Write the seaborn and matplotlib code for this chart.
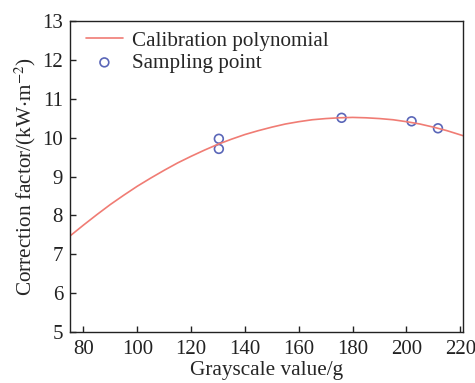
import pandas as pd
import matplotlib.pyplot as plt
import seaborn as sns

# Calibration curve
curve_x = [75, 80, 85, 90, 95, 100, 105, 110, 115, 120, 125, 130, 135, 140, 145, 150,
           155, 160, 165, 170, 175, 180, 185, 190, 195, 200, 205, 210, 215, 221]
curve_y = [7.47, 7.75, 8.02, 8.28, 8.52, 8.75, 8.96, 9.16, 9.35, 9.52, 9.68, 9.83, 9.96, 10.08,
           10.18, 10.27, 10.35, 10.41, 10.46, 10.49, 10.51, 10.52, 10.51, 10.49, 10.46, 10.41,
           10.35, 10.27, 10.18, 10.05]

# Sampling points
sample_x = [130.3, 130.3, 175.9, 201.9, 211.7]
sample_y = [9.97, 9.71, 10.51, 10.42, 10.24]

x_ticks = list(range(80, 221, 20))
y_ticks = list(range(5, 14))

sns.set_style('ticks')
plt.rcParams['font.family'] = ['Liberation Serif', 'DejaVu Serif']
plt.rcParams['mathtext.fontset'] = 'stix'

fig = plt.figure(figsize=(4.75, 3.83), dpi=100)
ax = fig.add_axes([70 / 475, 1 - 332 / 383, 393 / 475, 311 / 383])

curve = pd.DataFrame({'x': curve_x, 'y': curve_y})
samples = pd.DataFrame({'x': sample_x, 'y': sample_y})

sns.lineplot(data=curve, x='x', y='y', ax=ax, color='#f07c74', linewidth=1.2,
             label='Calibration polynomial')
sns.scatterplot(data=samples, x='x', y='y', ax=ax, marker='o', s=40,
                facecolor='none', edgecolor='#5a66b8', linewidth=1.2,
                label='Sampling point')

ax.set_xlim(75, 221)
ax.set_ylim(5, 13)
ax.set_xticks(x_ticks)
ax.set_yticks(y_ticks)
ax.tick_params(direction='in', labelsize=15, length=4, width=1, colors='#222222')
ax.tick_params(axis='x', pad=6)
ax.tick_params(axis='y', pad=5)
for s in ax.spines.values():
    s.set_linewidth(1)
    s.set_color('#222222')

ax.set_xlabel('Grayscale value/g', fontsize=15.3, labelpad=1)
ax.set_ylabel('Correction factor/(kW$\\cdot$m$^{-2}$)', fontsize=15.3, labelpad=3)

ax.legend(loc='upper left', bbox_to_anchor=(0.019, 0.9955), frameon=False,
          fontsize=15.2, handlelength=1.75, handletextpad=0.45,
          borderaxespad=0, labelspacing=0.12)

fig.savefig('out.png', dpi=100)
